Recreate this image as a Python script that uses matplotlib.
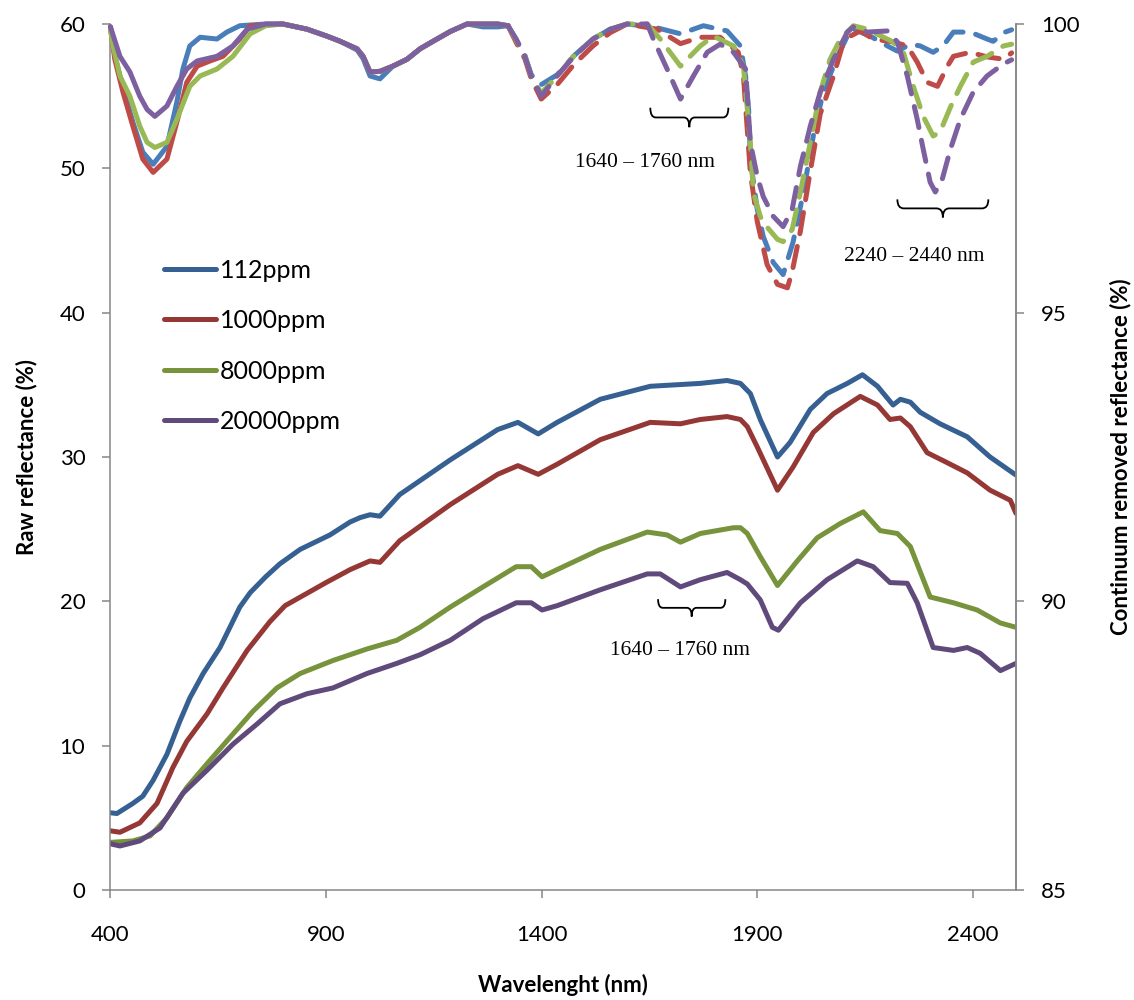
import matplotlib.pyplot as plt
from matplotlib.path import Path
from matplotlib.patches import PathPatch

plt.rcParams['font.family'] = ['Lato', 'DejaVu Sans']

labels = ['112ppm', '1000ppm', '8000ppm', '20000ppm']
raw_colors = ['#376092', '#953735', '#77933C', '#604A7B']
cr_colors = ['#4A7EBB', '#BE4B48', '#98B954', '#7D60A0']

# raw reflectance (%), left axis
wl_raw_112 = [400, 415, 452, 475, 499, 531, 561, 584, 615, 654, 700, 724, 760, 793, 840, 909, 956, 979, 1002, 1025,
              1071, 1188, 1298, 1345, 1392, 1436, 1536, 1652, 1768, 1830, 1861, 1884, 1907, 1947, 1976, 2023,
              2062, 2109, 2144, 2179, 2215, 2232, 2255, 2278, 2324, 2387, 2440, 2500]
raw_112 = [5.35, 5.3, 6.0, 6.5, 7.6, 9.4, 11.7, 13.3, 15.0, 16.8, 19.6, 20.6, 21.7, 22.6, 23.6, 24.6, 25.5, 25.8,
           26.0, 25.9, 27.4, 29.8, 31.9, 32.4, 31.6, 32.4, 34.0, 34.9, 35.1, 35.3, 35.1, 34.4, 32.6, 30.0, 31.0,
           33.3, 34.4, 35.1, 35.7, 34.9, 33.6, 34.0, 33.8, 33.1, 32.3, 31.4, 30.0, 28.75]

wl_raw_1000 = [400, 422, 468, 508, 545, 577, 624, 661, 717, 770, 805, 900, 956, 1002, 1025, 1071, 1188, 1298,
               1345, 1392, 1436, 1536, 1652, 1722, 1768, 1830, 1861, 1877, 1900, 1947, 1983, 2030, 2077, 2139,
               2179, 2208, 2232, 2255, 2294, 2341, 2387, 2440, 2487, 2500]
raw_1000 = [4.1, 4.0, 4.65, 6.0, 8.5, 10.3, 12.2, 14.0, 16.6, 18.6, 19.7, 21.3, 22.2, 22.8, 22.7, 24.2, 26.7,
            28.8, 29.4, 28.8, 29.5, 31.2, 32.4, 32.3, 32.6, 32.8, 32.6, 32.1, 30.7, 27.7, 29.3, 31.7, 33.0, 34.2,
            33.6, 32.6, 32.7, 32.1, 30.3, 29.6, 28.9, 27.7, 27.0, 26.1]

wl_raw_8000 = [400, 452, 492, 531, 577, 624, 684, 731, 786, 840, 916, 995, 1064, 1118, 1188, 1264, 1341, 1376,
               1401, 1436, 1536, 1645, 1691, 1722, 1768, 1845, 1861, 1877, 1907, 1947, 1993, 2039, 2093, 2146,
               2185, 2225, 2255, 2301, 2355, 2410, 2464, 2500]
raw_8000 = [3.3, 3.4, 3.75, 5.0, 7.1, 8.75, 10.8, 12.4, 14.0, 15.0, 15.9, 16.7, 17.3, 18.2, 19.6, 21.0, 22.4,
            22.4, 21.7, 22.2, 23.6, 24.8, 24.6, 24.1, 24.7, 25.1, 25.1, 24.7, 23.1, 21.1, 22.8, 24.4, 25.4, 26.2,
            24.9, 24.7, 23.8, 20.3, 19.9, 19.4, 18.5, 18.2]

wl_raw_20000 = [400, 422, 468, 515, 568, 624, 684, 740, 793, 856, 916, 995, 1064, 1118, 1188, 1264, 1341, 1376,
                1401, 1436, 1536, 1645, 1675, 1722, 1768, 1830, 1861, 1877, 1907, 1935, 1949, 2000, 2062, 2132,
                2169, 2208, 2248, 2271, 2308, 2355, 2387, 2417, 2464, 2500]
raw_20000 = [3.2, 3.05, 3.4, 4.3, 6.7, 8.3, 10.1, 11.5, 12.9, 13.6, 14.0, 15.0, 15.7, 16.3, 17.3, 18.8, 19.9,
             19.9, 19.4, 19.7, 20.8, 21.9, 21.9, 21.0, 21.5, 22.0, 21.5, 21.2, 20.1, 18.2, 18.0, 19.9, 21.5, 22.8,
             22.4, 21.3, 21.25, 19.9, 16.8, 16.6, 16.8, 16.4, 15.2, 15.7]

# continuum removed reflectance (%), right axis
wl_cr_112 = [400, 410, 429, 452, 475, 499, 531, 554, 568, 584, 608, 647, 670, 700, 760, 800, 856, 902, 933, 972,
             986, 1002, 1025, 1055, 1088, 1118, 1148, 1188, 1227, 1264, 1298, 1322, 1341, 1361, 1376, 1399, 1436,
             1475, 1519, 1559, 1598, 1659, 1722, 1775, 1830, 1861, 1873, 1880, 1884, 1900, 1914, 1937, 1960, 1983,
             2007, 2030, 2053, 2086, 2109, 2123, 2162, 2202, 2225, 2255, 2278, 2308, 2331, 2355, 2394, 2433, 2447,
             2475, 2490]
cr_112 = [99.95, 99.45, 98.9, 98.3, 97.78, 97.57, 97.88, 98.65, 99.22, 99.62, 99.77, 99.74, 99.86, 99.97, 100,
          100, 99.91, 99.79, 99.70, 99.55, 99.4, 99.1, 99.05, 99.27, 99.39, 99.57, 99.70, 99.87, 100, 99.95,
          99.95, 99.97, 99.72, 99.46, 99.12, 98.95, 99.12, 99.45, 99.74, 99.91, 100, 99.95, 99.83, 99.97, 99.88,
          99.62, 99.10, 98.52, 97.66, 96.79, 96.32, 95.87, 95.66, 96.22, 97.08, 98.06, 98.82, 99.44, 99.79,
          99.91, 99.79, 99.62, 99.53, 99.65, 99.62, 99.51, 99.62, 99.86, 99.86, 99.74, 99.70, 99.86, 99.9]

wl_cr_1000 = [400, 410, 429, 452, 475, 499, 531, 554, 577, 601, 631, 661, 700, 724, 800, 856, 902, 933, 972, 986,
              1002, 1025, 1055, 1088, 1118, 1148, 1188, 1227, 1298, 1322, 1341, 1361, 1376, 1399, 1436, 1475,
              1519, 1559, 1598, 1668, 1722, 1768, 1814, 1856, 1868, 1884, 1900, 1923, 1947, 1970, 1981, 2000,
              2023, 2046, 2077, 2100, 2116, 2139, 2169, 2215, 2248, 2271, 2294, 2318, 2341, 2355, 2394, 2433,
              2471, 2490]
cr_1000 = [99.95, 99.39, 98.82, 98.23, 97.66, 97.43, 97.66, 98.30, 98.99, 99.27, 99.36, 99.44, 99.74, 99.97,
           100, 99.91, 99.79, 99.70, 99.57, 99.44, 99.17, 99.18, 99.27, 99.39, 99.57, 99.70, 99.87, 100, 100,
           99.97, 99.68, 99.40, 99.05, 98.70, 98.95, 99.30, 99.62, 99.85, 100, 99.91, 99.66, 99.77, 99.77, 99.51,
           99.10, 97.43, 96.58, 95.83, 95.49, 95.43, 95.71, 96.41, 97.45, 98.44, 99.10, 99.69, 99.79, 99.88,
           99.74, 99.69, 99.62, 99.34, 98.99, 98.92, 99.27, 99.44, 99.51, 99.43, 99.39, 99.5]

wl_cr_8000 = [400, 406, 422, 445, 468, 485, 503, 531, 554, 584, 608, 647, 684, 724, 760, 800, 856, 902, 933, 972,
              986, 1002, 1025, 1055, 1088, 1118, 1148, 1188, 1227, 1298, 1322, 1341, 1361, 1376, 1399, 1436,
              1475, 1519, 1559, 1598, 1645, 1675, 1722, 1768, 1798, 1845, 1868, 1884, 1891, 1907, 1914, 1947,
              1960, 1981, 2000, 2023, 2046, 2069, 2093, 2123, 2155, 2215, 2239, 2262, 2285, 2308, 2324, 2348,
              2371, 2401, 2433, 2471, 2490]
cr_8000 = [99.9, 99.62, 99.10, 98.75, 98.23, 97.95, 97.86, 97.95, 98.35, 98.92, 99.10, 99.22, 99.44, 99.83,
           99.97, 100, 99.91, 99.79, 99.70, 99.57, 99.44, 99.17, 99.18, 99.27, 99.39, 99.57, 99.70, 99.87, 100,
           100, 99.97, 99.72, 99.45, 99.1, 98.8, 99.1, 99.45, 99.74, 99.91, 100, 100, 99.74, 99.27, 99.62, 99.79,
           99.62, 99.27, 97.95, 97.08, 96.67, 96.56, 96.27, 96.23, 96.44, 97.08, 97.95, 98.82, 99.39, 99.74,
           99.97, 99.91, 99.69, 99.51, 98.92, 98.40, 98.06, 98.13, 98.56, 98.92, 99.34, 99.44, 99.62, 99.65]

wl_cr_20000 = [400, 422, 445, 468, 485, 503, 531, 554, 577, 601, 647, 684, 717, 760, 800, 856, 902, 933, 972,
               986, 1002, 1025, 1055, 1088, 1118, 1148, 1188, 1227, 1298, 1322, 1341, 1361, 1376, 1399, 1436,
               1475, 1519, 1559, 1598, 1645, 1659, 1691, 1722, 1752, 1784, 1814, 1845, 1873, 1884, 1900, 1914,
               1937, 1960, 1981, 2000, 2023, 2046, 2077, 2109, 2123, 2155, 2202, 2225, 2248, 2271, 2285, 2301,
               2313, 2329, 2348, 2371, 2401, 2433, 2471, 2490]
cr_20000 = [99.95, 99.44, 99.17, 98.75, 98.52, 98.40, 98.58, 98.92, 99.22, 99.36, 99.44, 99.62, 99.91, 100,
            100, 99.91, 99.79, 99.70, 99.57, 99.44, 99.17, 99.18, 99.27, 99.39, 99.57, 99.70, 99.87, 100, 100,
            99.97, 99.74, 99.44, 99.10, 98.75, 99.10, 99.44, 99.74, 99.91, 100, 100, 99.74, 99.22, 98.70, 99.10,
            99.51, 99.65, 99.51, 99.22, 97.95, 97.36, 97.01, 96.67, 96.49, 96.79, 97.53, 98.23, 98.82, 99.39,
            99.86, 99.95, 99.86, 99.88, 99.69, 99.10, 98.35, 97.83, 97.26, 97.09, 97.31, 97.83, 98.35, 98.82,
            99.10, 99.31, 99.38]

raw_wl = [wl_raw_112, wl_raw_1000, wl_raw_8000, wl_raw_20000]
raw_vals = [raw_112, raw_1000, raw_8000, raw_20000]
cr_wl = [wl_cr_112, wl_cr_1000, wl_cr_8000, wl_cr_20000]
cr_vals = [cr_112, cr_1000, cr_8000, cr_20000]

SPLIT_NM = 1322  # continuum removed curves are drawn dashed past this point

# absorption features marked with braces: (start nm, end nm, top, tip, label x, label y) in raw units
features = [(1652, 1833, 54.2, 52.85, 1640, 50.4, '1640 – 1760 nm'),
            (2225, 2436, 47.85, 46.6, 2263, 43.9, '2240 – 2440 nm'),
            (1670, 1826, 20.15, 18.95, 1721, 16.6, '1640 – 1760 nm')]

GREY = '#868686'
LW = 3.6

fig = plt.figure(figsize=(11.34, 10), dpi=100)
ax = fig.add_axes([0.0974, 0.110, 0.7985, 0.866])
ax2 = ax.twinx()

for wl, vals, col, lab in zip(raw_wl, raw_vals, raw_colors, labels):
    ax.plot(wl, vals, color=col, lw=LW, label=lab, solid_capstyle='round', solid_joinstyle='round')

for wl, vals, col in zip(cr_wl, cr_vals, cr_colors):
    i = wl.index(SPLIT_NM)
    ax2.plot(wl[:i + 1], vals[:i + 1], color=col, lw=LW, solid_capstyle='round', solid_joinstyle='round',
             clip_on=False)
    ax2.plot(wl[i:], vals[i:], color=col, lw=LW, linestyle=(0, (4.3, 2.6)), dash_capstyle='round',
             dash_joinstyle='round', clip_on=False)


def brace(x0, x1, top, tip):
    xc = (x0 + x1) / 2
    mid = top - (top - tip) * 0.5
    r = (x1 - x0) * 0.07
    verts = [(x0, top), (x0, mid), (x0 + r, mid), (xc - r, mid), (xc, mid), (xc, tip),
             (x1, top), (x1, mid), (x1 - r, mid), (xc + r, mid), (xc, mid), (xc, tip)]
    codes = [Path.MOVETO, Path.CURVE3, Path.CURVE3, Path.LINETO, Path.CURVE3, Path.CURVE3] * 2
    ax.add_patch(PathPatch(Path(verts, codes), fill=False, edgecolor='black', lw=1.3))


for x0, x1, top, tip, tx, ty, txt in features:
    brace(x0, x1, top, tip)
    ax.text(tx, ty, txt, ha='center', va='center', fontsize=15.5, family='Liberation Serif')

ax.set_xlim(400, 2500)
ax.set_ylim(0, 60)
ax2.set_ylim(85, 100)
ax.set_xticks([400, 900, 1400, 1900, 2400])
ax.set_yticks(range(0, 61, 10))
ax2.set_yticks([85, 90, 95, 100])

for a in (ax, ax2):
    a.spines['top'].set_visible(False)
    for s in ('left', 'right', 'bottom'):
        a.spines[s].set_color(GREY)
        a.spines[s].set_linewidth(1.1)
ax2.spines['left'].set_visible(False)
ax2.spines['bottom'].set_visible(False)

ax.tick_params(axis='x', length=6, width=1.1, color=GREY, labelsize=16, pad=19)
ax.tick_params(axis='y', length=6, width=1.1, color=GREY, labelsize=16, pad=12)
ax2.tick_params(axis='y', length=6, width=1.1, color=GREY, labelsize=16, pad=12)

ax.set_xlabel('Wavelenght (nm)', fontsize=16, fontweight='bold')
ax.set_ylabel('Raw reflectance (%)', fontsize=16, fontweight='bold')
ax2.set_ylabel('Continuum removed reflectance (%)', fontsize=16, fontweight='bold')
ax.xaxis.set_label_coords(0.5, -0.097)
ax.yaxis.set_label_coords(-0.081, 0.5)
ax2.yaxis.set_label_coords(1.104, 0.5)

ax.legend(loc='upper left', bbox_to_anchor=(0.0593, 0.729), frameon=False, fontsize=18, handlelength=2.08,
          handletextpad=0.15, labelspacing=1.1, borderpad=0, borderaxespad=0)

fig.savefig('out.png', dpi=100)
